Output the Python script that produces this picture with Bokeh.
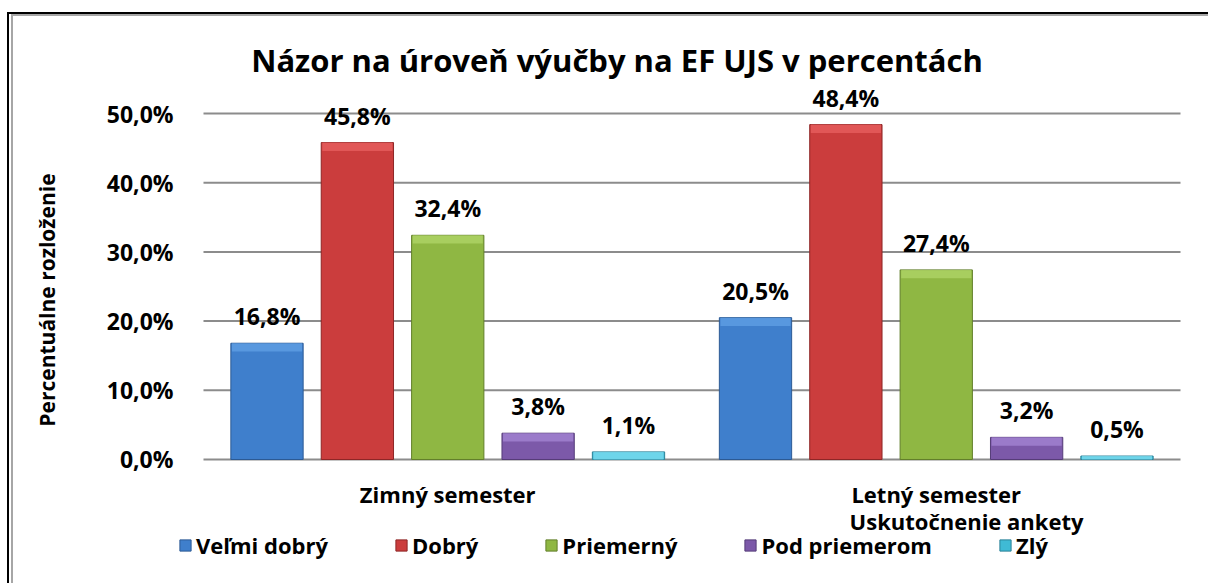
from bokeh.plotting import figure
from bokeh.models import (ColumnDataSource, FixedTicker, LabelSet, Label, Legend,
                          LegendItem, Range1d)
from bokeh.core.properties import value
from bokeh.embed import file_html
from bokeh.resources import INLINE

# ---- data ----
semesters = ["Zimný semester", "Letný semester"]
ratings = ["Veľmi dobrý", "Dobrý", "Priemerný", "Pod priemerom", "Zlý"]
zimny = [16.8, 45.8, 32.4, 3.8, 1.1]
letny = [20.5, 48.4, 27.4, 3.2, 0.5]
y_ticks = [0, 10, 20, 30, 40, 50]
x_title = "Uskutočnenie ankety"
y_title = "Percentuálne rozloženie"
chart_title = "Názor na úroveň výučby na EF UJS v percentách"

# ---- style ----
colors = ["#3F7FCC", "#CB3D3D", "#8FB743", "#7C59A9", "#3FBAD5"]
top_colors = ["#62A0E6", "#E86060", "#B0D668", "#A687D6", "#7FDDF0"]
edge_colors = ["#2C5A94", "#8E2626", "#627F2A", "#553C78", "#2A8298"]
FONT = "Open Sans"
pitch = 0.185
bar_w = 0.148
W, H = 1195, 567
LEFT = 162

n = len(semesters)
p = figure(width=W, height=H, x_range=Range1d(-0.0573, 2.0573),
           y_range=Range1d(-17.92, 64.02),
           output_backend="svg", toolbar_location=None,
           min_border_left=LEFT, min_border_right=0, min_border_top=0,
           min_border_bottom=0,
           styles={"margin-left": "13px", "margin-top": "16px",
                   "box-shadow": "0 0 0 2px #A6A6A6, 0 2px 0 4px white, 0 2px 0 6px black"})
p.outline_line_color = None
p.background_fill_color = "white"
p.border_fill_color = "white"
p.xgrid.visible = False
p.ygrid.visible = False
p.xaxis.visible = False

# gridlines over the category area
p.segment(x0=[0] * len(y_ticks), x1=[n] * len(y_ticks), y0=y_ticks, y1=y_ticks,
          line_color="#8C8C8C", line_width=2)

# y axis
p.yaxis.ticker = FixedTicker(ticks=y_ticks)
p.yaxis.major_label_overrides = {t: f"{t:.1f}%".replace(".", ",") for t in y_ticks}
p.yaxis.axis_line_color = None
p.yaxis.major_tick_line_color = None
p.yaxis.minor_tick_line_color = None
p.yaxis.major_tick_out = 0
p.yaxis.major_label_standoff = 2
p.yaxis.major_label_text_font = FONT
p.yaxis.major_label_text_font_style = "bold"
p.yaxis.major_label_text_font_size = "23px"
p.yaxis.major_label_text_color = "black"
p.yaxis.axis_label = y_title
p.yaxis.axis_label_text_font = FONT
p.yaxis.axis_label_text_font_style = "bold"
p.yaxis.axis_label_text_font_size = "21px"
p.yaxis.axis_label_text_color = "black"
p.yaxis.axis_label_standoff = 43

# category labels
cat_src = ColumnDataSource(dict(x=[i + 0.5 for i in range(n)], y=[0] * n, t=semesters))
p.add_layout(LabelSet(x="x", y="y", text="t", source=cat_src, y_offset=-35,
                      text_align="center", text_baseline="middle",
                      text_font=value(FONT), text_font_style="bold",
                      text_font_size="22px", text_color="black"))

# bars
items = []
for j, name in enumerate(ratings):
    vals = [zimny[j], letny[j]]
    xs = [i + 0.5 + (j - 2) * pitch for i in range(n)]
    src = ColumnDataSource(dict(x=xs, top=vals,
                                lab=[f"{v:.1f}%".replace(".", ",") for v in vals]))
    r = p.vbar(x="x", top="top", width=bar_w, bottom=0, source=src,
               fill_color=colors[j], line_color=edge_colors[j], line_width=1)
    band = ColumnDataSource(dict(x=xs, top=vals, bottom=[max(v - 1.2, 0) for v in vals]))
    p.vbar(x="x", top="top", bottom="bottom", width=bar_w * 0.97, source=band,
           fill_color=top_colors[j], line_color=None, fill_alpha=0.75)
    p.add_layout(LabelSet(x="x", y="top", text="lab", source=src, y_offset=18,
                          text_align="center", text_baseline="alphabetic",
                          text_font=value(FONT), text_font_style="bold",
                          text_font_size="23px", text_color="black"))
    items.append(LegendItem(label=name, renderers=[r]))

legend = Legend(items=items, orientation="horizontal", location=(3, 23),
                spacing=66, glyph_width=14, glyph_height=14, label_standoff=4,
                label_text_font=FONT, label_text_font_style="bold",
                label_text_font_size="22px", label_text_color="black",
                border_line_color=None, background_fill_alpha=0,
                padding=0, margin=0)
p.add_layout(legend)

# x axis title
p.add_layout(Label(x=1.562, y=-8.96, text=x_title, text_align="center",
                   text_baseline="middle", text_font=FONT, text_font_style="bold",
                   text_font_size="22px", text_color="black"))

# chart title
p.add_layout(Label(x=0.8465, y=57.8, text=chart_title, text_align="center",
                   text_baseline="middle", text_font=FONT, text_font_style="bold",
                   text_font_size="31px", text_color="black"))

open("out.html", "w").write(file_html(p, INLINE))
